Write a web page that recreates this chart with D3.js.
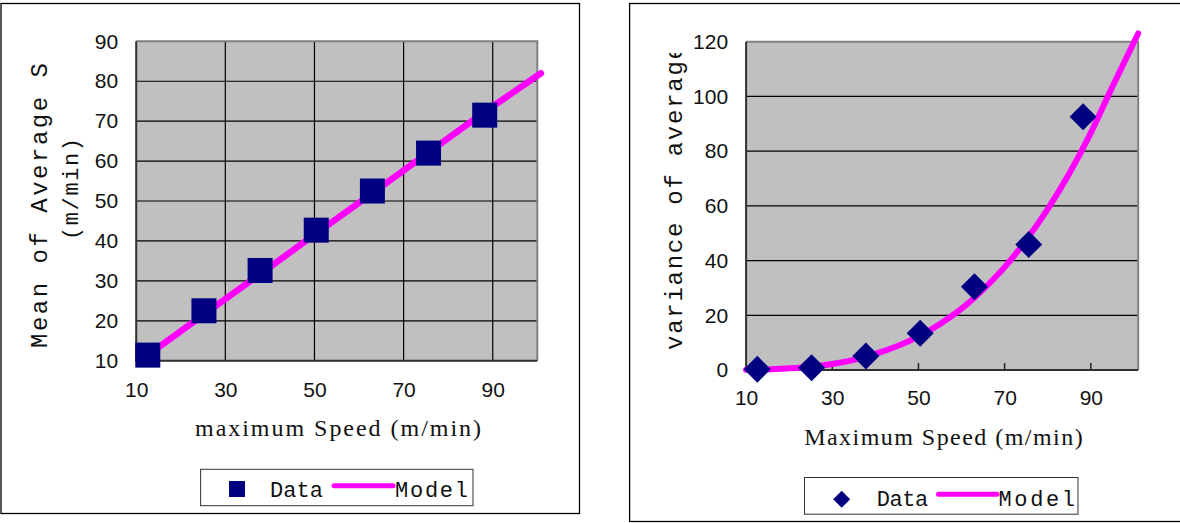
<!doctype html>
<html>
<head>
  <title>Mean and variance of average speed</title>
  <meta charset="UTF-8">
  <script src="https://d3js.org/d3.v7.min.js"></script>
  <style>
    body { margin: 0; background: #ffffff; }
  </style>
</head>
<body>
  <div id="svg_area"></div>
</body>
</html>
<script>

// data
var speeds = [12.6, 25.2, 37.8, 50.4, 63, 75.6, 88.2];
var meanSpeed = [11.4, 22.5, 32.6, 42.7, 52.5, 62.0, 71.5];
var varSpeed = [0.3, 0.8, 5.1, 13.4, 30.4, 45.9, 92.6];

// fitted model lines
var meanModelX = [12.6, 25.2, 37.8, 50.4, 63, 75.6, 88.2, 100.8];
var meanModelY = [11.4, 21.6, 31.7, 41.9, 52.0, 62.2, 72.3, 82.0];
var varModelX = [10, 15, 20, 25, 30, 35, 40, 45, 50, 55, 60, 65, 70, 75, 80, 85, 90, 95, 101];
var varModelY = [0.1, 0.2, 0.6, 1.2, 2.2, 3.7, 5.9, 8.7, 12.2, 16.8, 22.4, 29.4, 37.6, 47.5, 58.8, 71.8, 86.7, 103.5, 123];

// tick labels
var xTicks = [10, 30, 50, 70, 90];
var meanTicks = [10, 20, 30, 40, 50, 60, 70, 80, 90];
var varTicks = [0, 20, 40, 60, 80, 100, 120];

var navy = "#000080";
var pink = "#ff00ff";
var tickFont = "'Liberation Sans', Arial, sans-serif";
var monoFont = "'Liberation Mono', 'DejaVu Sans Mono', monospace";
var serifFont = "'Liberation Serif', 'DejaVu Serif', serif";
var tickSize = 21;

var svg = d3.select("#svg_area").append("svg")
    .attr("width", 1180)
    .attr("height", 523);

var defs = svg.append("defs");

// outer chart boxes
svg.append("rect")
    .attr("x", 1).attr("y", 3.5)
    .attr("width", 578.5).attr("height", 510)
    .attr("fill", "white").attr("stroke", "black").attr("stroke-width", 1.3);

svg.append("rect")
    .attr("x", 629.6).attr("y", 3.5)
    .attr("width", 600).attr("height", 518)
    .attr("fill", "white").attr("stroke", "black").attr("stroke-width", 1.3);


// ---------- left chart : mean ----------
var L = {left: 136.2, right: 537.3, top: 41.3, bottom: 360.7};

var xL = d3.scaleLinear().domain([10, 100]).range([L.left, L.right]);
var yL = d3.scaleLinear().domain([10, 90]).range([L.bottom, L.top]);

var gL = svg.append("g");

gL.append("rect")
    .attr("x", L.left).attr("y", L.top)
    .attr("width", L.right - L.left).attr("height", L.bottom - L.top)
    .attr("fill", "#c0c0c0");

// horizontal grid
gL.selectAll(".hgrid")
    .data(meanTicks.filter(function(d){ return d > 10 && d < 90; }))
    .enter().append("line")
    .attr("x1", L.left).attr("x2", L.right)
    .attr("y1", function(d){ return yL(d); })
    .attr("y2", function(d){ return yL(d); })
    .attr("stroke", "black").attr("stroke-width", 1.2);

// vertical grid
gL.selectAll(".vgrid")
    .data(xTicks.filter(function(d){ return d > 10; }))
    .enter().append("line")
    .attr("x1", function(d){ return xL(d); })
    .attr("x2", function(d){ return xL(d); })
    .attr("y1", L.top).attr("y2", L.bottom)
    .attr("stroke", "black").attr("stroke-width", 1.2);

// plot border: grey top / right, dark axes
gL.append("path")
    .attr("d", "M" + L.left + "," + L.top + "H" + L.right + "V" + L.bottom)
    .attr("fill", "none").attr("stroke", "#808080").attr("stroke-width", 2);
gL.append("path")
    .attr("d", "M" + L.left + "," + L.top + "V" + L.bottom + "H" + L.right)
    .attr("fill", "none").attr("stroke", "#303030").attr("stroke-width", 2);

// axes labels
var yAxisL = d3.axisLeft(yL).tickValues(meanTicks).tickSize(0).tickPadding(18);
gL.append("g")
    .attr("transform", "translate(" + L.left + ",0)")
    .call(yAxisL)
    .call(function(g){ g.select(".domain").remove(); })
    .selectAll("text")
      .attr("font-family", tickFont).attr("font-size", tickSize).attr("fill", "#111");

var xAxisL = d3.axisBottom(xL).tickValues(xTicks).tickSize(0).tickPadding(21);
gL.append("g")
    .attr("transform", "translate(0," + L.bottom + ")")
    .call(xAxisL)
    .call(function(g){ g.select(".domain").remove(); })
    .selectAll("text")
      .attr("font-family", tickFont).attr("font-size", tickSize).attr("fill", "#111");

// model line
var meanLine = d3.line()
    .x(function(d){ return xL(d[0]); })
    .y(function(d){ return yL(d[1]); });

gL.append("path")
    .datum(d3.zip(meanModelX, meanModelY))
    .attr("d", meanLine)
    .attr("fill", "none").attr("stroke", pink)
    .attr("stroke-width", 6.5).attr("stroke-linecap", "round");

// square markers
gL.selectAll(".sq")
    .data(d3.zip(speeds, meanSpeed))
    .enter().append("rect")
    .attr("x", function(d){ return xL(d[0]) - 12.5; })
    .attr("y", function(d){ return yL(d[1]) - 12.5; })
    .attr("width", 25).attr("height", 25)
    .attr("fill", navy);

// axis titles
gL.append("text")
    .attr("transform", "translate(47,205.5) rotate(-90)")
    .attr("text-anchor", "middle")
    .attr("font-family", monoFont).attr("font-size", 24)
    .attr("textLength", 285).attr("lengthAdjust", "spacing")
    .attr("fill", "#111")
    .text("Mean of Average S");

gL.append("text")
    .attr("transform", "translate(78,189) rotate(-90)")
    .attr("text-anchor", "middle")
    .attr("font-family", monoFont).attr("font-size", 22)
    .attr("textLength", 102).attr("lengthAdjust", "spacing")
    .attr("fill", "#111")
    .text("(m/min)");

gL.append("text")
    .attr("x", 195).attr("y", 436)
    .attr("font-family", serifFont).attr("font-size", 24)
    .attr("textLength", 286).attr("lengthAdjust", "spacing")
    .attr("fill", "#111")
    .text("maximum Speed (m/min)");

// legend
gL.append("rect")
    .attr("x", 200.6).attr("y", 469.3)
    .attr("width", 272.4).attr("height", 36.4)
    .attr("fill", "white").attr("stroke", "#333").attr("stroke-width", 1);
gL.append("rect")
    .attr("x", 229).attr("y", 481).attr("width", 16).attr("height", 16)
    .attr("fill", navy);
gL.append("text")
    .attr("x", 270).attr("y", 496.5)
    .attr("font-family", monoFont).attr("font-size", 22)
    .attr("textLength", 53).attr("lengthAdjust", "spacing")
    .attr("fill", "#111").text("Data");
gL.append("line")
    .attr("x1", 334).attr("x2", 393).attr("y1", 485.7).attr("y2", 485.7)
    .attr("stroke", pink).attr("stroke-width", 5).attr("stroke-linecap", "round");
gL.append("text")
    .attr("x", 395).attr("y", 496.5)
    .attr("font-family", monoFont).attr("font-size", 22)
    .attr("textLength", 73).attr("lengthAdjust", "spacing")
    .attr("fill", "#111").text("Model");


// ---------- right chart : variance ----------
var R = {left: 746.1, right: 1138.2, top: 41.7, bottom: 370};

var xR = d3.scaleLinear().domain([10, 101]).range([R.left, R.right]);
var yR = d3.scaleLinear().domain([0, 120]).range([R.bottom, R.top]);

var gR = svg.append("g");

gR.append("rect")
    .attr("x", R.left).attr("y", R.top)
    .attr("width", R.right - R.left).attr("height", R.bottom - R.top)
    .attr("fill", "#c0c0c0");

gR.selectAll(".hgrid")
    .data(varTicks.filter(function(d){ return d > 0 && d < 120; }))
    .enter().append("line")
    .attr("x1", R.left).attr("x2", R.right)
    .attr("y1", function(d){ return yR(d); })
    .attr("y2", function(d){ return yR(d); })
    .attr("stroke", "black").attr("stroke-width", 1.2);

gR.append("path")
    .attr("d", "M" + R.left + "," + R.top + "H" + R.right + "V" + R.bottom)
    .attr("fill", "none").attr("stroke", "#808080").attr("stroke-width", 2);
gR.append("path")
    .attr("d", "M" + R.left + "," + R.top + "V" + R.bottom + "H" + R.right)
    .attr("fill", "none").attr("stroke", "#303030").attr("stroke-width", 2);

// small inside ticks on the x axis
gR.selectAll(".xtick")
    .data(xTicks.filter(function(d){ return d > 10; }))
    .enter().append("line")
    .attr("x1", function(d){ return xR(d); })
    .attr("x2", function(d){ return xR(d); })
    .attr("y1", R.bottom - 7).attr("y2", R.bottom)
    .attr("stroke", "#222").attr("stroke-width", 1.5);

var yAxisR = d3.axisLeft(yR).tickValues(varTicks).tickSize(0).tickPadding(18);
gR.append("g")
    .attr("transform", "translate(" + R.left + ",0)")
    .call(yAxisR)
    .call(function(g){ g.select(".domain").remove(); })
    .selectAll("text")
      .attr("font-family", tickFont).attr("font-size", tickSize).attr("fill", "#111");

var xAxisR = d3.axisBottom(xR).tickValues(xTicks).tickSize(0).tickPadding(20);
gR.append("g")
    .attr("transform", "translate(0," + R.bottom + ")")
    .call(xAxisR)
    .call(function(g){ g.select(".domain").remove(); })
    .selectAll("text")
      .attr("font-family", tickFont).attr("font-size", tickSize).attr("fill", "#111");

var varLine = d3.line()
    .curve(d3.curveMonotoneX)
    .x(function(d){ return xR(d[0]); })
    .y(function(d){ return yR(d[1]); });

gR.append("path")
    .datum(d3.zip(varModelX, varModelY))
    .attr("d", varLine)
    .attr("fill", "none").attr("stroke", pink)
    .attr("stroke-width", 6).attr("stroke-linecap", "round");

// diamond markers
var diamond = d3.symbol().type(d3.symbolSquare).size(13.5 * 13.5 * 2);
gR.selectAll(".dia")
    .data(d3.zip(speeds, varSpeed))
    .enter().append("path")
    .attr("d", diamond)
    .attr("transform", function(d){
      return "translate(" + xR(d[0]) + "," + yR(d[1]) + ") rotate(45)";
    })
    .attr("fill", navy);

// y title clipped at the top like the original
defs.append("clipPath").attr("id", "clipR")
  .append("rect").attr("x", 640).attr("y", 53).attr("width", 80).attr("height", 320);

gR.append("g")
    .attr("clip-path", "url(#clipR)")
  .append("text")
    .attr("transform", "translate(682,350) rotate(-90)")
    .attr("text-anchor", "start")
    .attr("font-family", monoFont).attr("font-size", 24)
    .attr("textLength", 305).attr("lengthAdjust", "spacing")
    .attr("fill", "#111")
    .text("variance of average");

gR.append("text")
    .attr("x", 943.4).attr("y", 445)
    .attr("text-anchor", "middle")
    .attr("font-family", serifFont).attr("font-size", 24)
    .attr("textLength", 278.5).attr("lengthAdjust", "spacing")
    .attr("fill", "#111")
    .text("Maximum Speed (m/min)");

// legend
gR.append("rect")
    .attr("x", 804.5).attr("y", 477.5)
    .attr("width", 273.5).attr("height", 36.7)
    .attr("fill", "white").attr("stroke", "#333").attr("stroke-width", 1);
gR.append("path")
    .attr("d", d3.symbol().type(d3.symbolSquare).size(8.5 * 8.5 * 2))
    .attr("transform", "translate(841.7,499.3) rotate(45)")
    .attr("fill", navy);
gR.append("text")
    .attr("x", 876.7).attr("y", 505.5)
    .attr("font-family", monoFont).attr("font-size", 22)
    .attr("textLength", 51.6).attr("lengthAdjust", "spacing")
    .attr("fill", "#111").text("Data");
gR.append("line")
    .attr("x1", 938.5).attr("x2", 997).attr("y1", 494.3).attr("y2", 494.3)
    .attr("stroke", pink).attr("stroke-width", 5).attr("stroke-linecap", "round");
gR.append("text")
    .attr("x", 998.5).attr("y", 505.5)
    .attr("font-family", monoFont).attr("font-size", 22)
    .attr("textLength", 76.5).attr("lengthAdjust", "spacing")
    .attr("fill", "#111").text("Model");

</script>
